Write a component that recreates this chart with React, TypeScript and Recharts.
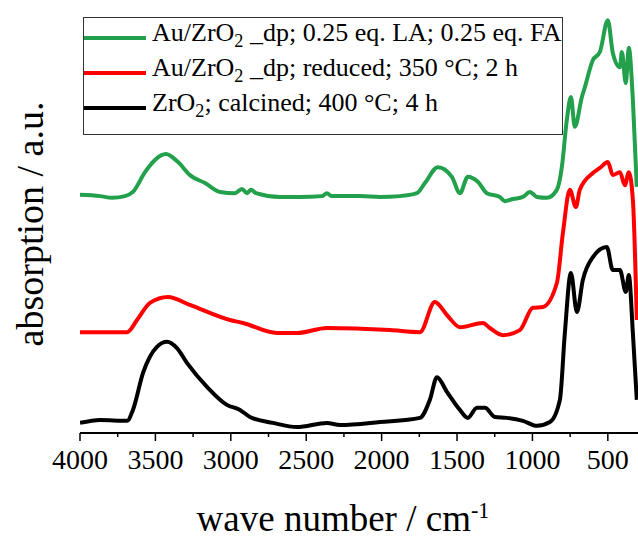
import { LineChart, Line, XAxis, YAxis, Legend } from 'recharts';

const greenWn = [4000, 3867, 3788, 3702, 3649, 3569, 3503, 3430, 3350, 3271, 3171, 3072, 2973, 2926, 2893, 2866, 2833, 2674, 2542, 2396, 2363, 2330, 2144, 2011, 1879, 1766, 1713, 1627, 1534, 1481, 1428, 1362, 1302, 1216, 1183, 1130, 1063, 1017, 970, 904, 838, 805, 772, 745, 719, 672, 652, 599, 553, 500, 467, 420, 407, 381, 361, 334, 308];
const greenAbs = [56.7, 56.4, 56.0, 56.4, 57.4, 62.1, 65.0, 66.4, 64.5, 61.4, 59.5, 57.4, 57.1, 58.1, 57.1, 57.9, 57.1, 56.2, 56.2, 56.4, 57.1, 56.4, 56.4, 56.2, 56.4, 57.1, 59.5, 63.3, 61.0, 57.1, 61.0, 59.8, 57.1, 56.2, 55.2, 55.7, 56.2, 57.4, 56.2, 56.0, 57.9, 63.3, 74.5, 80.0, 72.9, 80.0, 82.4, 88.8, 90.7, 98.3, 90.5, 87.1, 90.7, 83.3, 91.7, 79.3, 58.6];

const redWn = [4000, 3688, 3622, 3536, 3417, 3271, 3006, 2919, 2694, 2561, 2363, 1945, 1746, 1647, 1567, 1481, 1329, 1282, 1196, 1083, 997, 931, 838, 798, 752, 712, 686, 599, 553, 500, 467, 420, 387, 361, 334, 308];
const redAbs = [24.0, 24.0, 26.9, 31.0, 32.4, 30.5, 26.9, 26.2, 23.8, 23.8, 25.0, 24.5, 24.0, 31.2, 28.1, 25.2, 26.2, 25.0, 23.3, 24.5, 29.8, 30.0, 35.7, 47.6, 57.9, 53.8, 57.9, 61.9, 63.1, 64.5, 61.4, 62.1, 59.0, 62.1, 55.5, 26.9];

const blackWn = [4000, 3867, 3688, 3649, 3582, 3490, 3423, 3357, 3291, 3158, 3026, 2939, 2873, 2721, 2561, 2363, 2276, 2011, 1746, 1680, 1633, 1567, 1481, 1428, 1368, 1315, 1249, 1170, 1063, 970, 884, 818, 785, 745, 705, 666, 599, 507, 467, 420, 381, 361, 334, 308];
const blackAbs = [2.4, 3.1, 2.9, 5.5, 14.3, 20.5, 21.7, 20.2, 16.7, 11.0, 6.7, 5.5, 3.8, 2.4, 1.4, 2.4, 1.9, 2.6, 3.6, 7.9, 13.3, 9.8, 5.5, 3.6, 6.0, 6.0, 3.8, 3.6, 2.9, 1.7, 2.6, 7.9, 23.8, 38.1, 28.8, 36.4, 41.9, 44.3, 38.8, 38.8, 33.6, 37.6, 23.8, 7.9];

const xTicks = [4000, 3750, 3500, 3250, 3000, 2750, 2500, 2250, 2000, 1750, 1500, 1250, 1000, 750, 500];

const toPoints = (wn: number[], abs: number[]) => wn.map((w, i) => ({ wn: w, abs: abs[i] }));

const series = [
  { name: 'au-la-fa', color: '#22a04b', data: toPoints(greenWn, greenAbs) },
  { name: 'au-reduced', color: '#ff0000', data: toPoints(redWn, redAbs) },
  { name: 'zro2', color: '#000000', data: toPoints(blackWn, blackAbs) },
];

const FONT = "'Liberation Serif', 'Tinos', 'Times New Roman', 'DejaVu Serif', 'Noto Serif', serif";

const legendLabels = [
  <>Au/ZrO<sub style={{ fontSize: '0.7em' }}>2</sub> _dp; 0.25 eq. LA; 0.25 eq. FA</>,
  <>Au/ZrO<sub style={{ fontSize: '0.7em' }}>2</sub> _dp; reduced; 350 °C; 2 h</>,
  <>ZrO<sub style={{ fontSize: '0.7em' }}>2</sub>; calcined; 400 °C; 4 h</>,
];

function WnTick({ x, y, payload }: any) {
  const major = payload.value % 500 === 0;
  return (
    <g>
      <line x1={x} x2={x} y1={y} y2={y + (major ? 8 : 4)} stroke="#000" strokeWidth={1.5} />
      {major && (
        <text x={x} y={y + 36} textAnchor="middle" style={{ fontFamily: FONT, fontSize: 28 }} fill="#000">
          {payload.value}
        </text>
      )}
    </g>
  );
}

function LegendBox() {
  return (
    <div
      style={{
        border: '1px solid #333',
        background: '#fff',
        width: 478,
        height: 114,
        boxSizing: 'content-box',
        fontFamily: FONT,
        fontSize: 26,
        color: '#000',
        paddingTop: 2,
      }}
    >
      {series.map((s, i) => (
        <div key={s.name} style={{ display: 'flex', alignItems: 'center', height: 35, whiteSpace: 'nowrap' }}>
          <div style={{ width: 62, height: 4, background: s.color, marginRight: 6 }} />
          <span style={{ lineHeight: '35px' }}>{legendLabels[i]}</span>
        </div>
      ))}
    </div>
  );
}

export default function App() {
  return (
    <div style={{ position: 'absolute', left: 0, top: 0, width: 638, height: 540, background: '#fff', overflow: 'hidden', fontFamily: FONT }}>
      <LineChart width={638} height={540} margin={{ top: 13, right: 0, left: 80, bottom: 0 }}>
        <XAxis
          dataKey="wn"
          type="number"
          domain={[300, 4000]}
          reversed
          allowDataOverflow
          ticks={xTicks}
          interval={0}
          height={107}
          tickSize={0}
          tickMargin={0}
          tick={<WnTick />}
          axisLine={{ stroke: '#000', strokeWidth: 2 }}
          tickLine={false}
        />
        <XAxis
          xAxisId="top"
          orientation="top"
          type="number"
          domain={[300, 4000]}
          reversed
          height={0}
          tick={false}
          tickLine={false}
          axisLine={{ stroke: '#222', strokeWidth: 2 }}
        />
        <YAxis
          type="number"
          domain={[0, 100]}
          width={0}
          tick={false}
          tickLine={false}
          axisLine={{ stroke: '#000', strokeWidth: 2 }}
        />
        <Legend
          layout="vertical"
          align="center"
          verticalAlign="middle"
          content={<LegendBox />}
          wrapperStyle={{ position: 'absolute', left: 83, top: 17, width: 480, height: 116 }}
        />
        {series.map((s) => (
          <Line
            key={s.name}
            name={s.name}
            data={s.data}
            dataKey="abs"
            type="monotone"
            stroke={s.color}
            strokeWidth={4}
            strokeLinejoin="round"
            dot={false}
            activeDot={false}
            isAnimationActive={false}
          />
        ))}
      </LineChart>
      <div
        style={{
          position: 'absolute',
          left: 30,
          top: 224,
          transform: 'translate(-50%, -50%) rotate(-90deg)',
          fontSize: 38,
          whiteSpace: 'nowrap',
          color: '#000',
          lineHeight: 1,
        }}
      >
        absorption / a.u.
      </div>
      <div
        style={{
          position: 'absolute',
          left: 343,
          top: 500,
          transform: 'translateX(-50%)',
          fontSize: 37,
          whiteSpace: 'nowrap',
          color: '#000',
          lineHeight: 1,
        }}
      >
        wave number / cm<sup style={{ fontSize: '0.6em' }}>-1</sup>
      </div>
    </div>
  );
}
